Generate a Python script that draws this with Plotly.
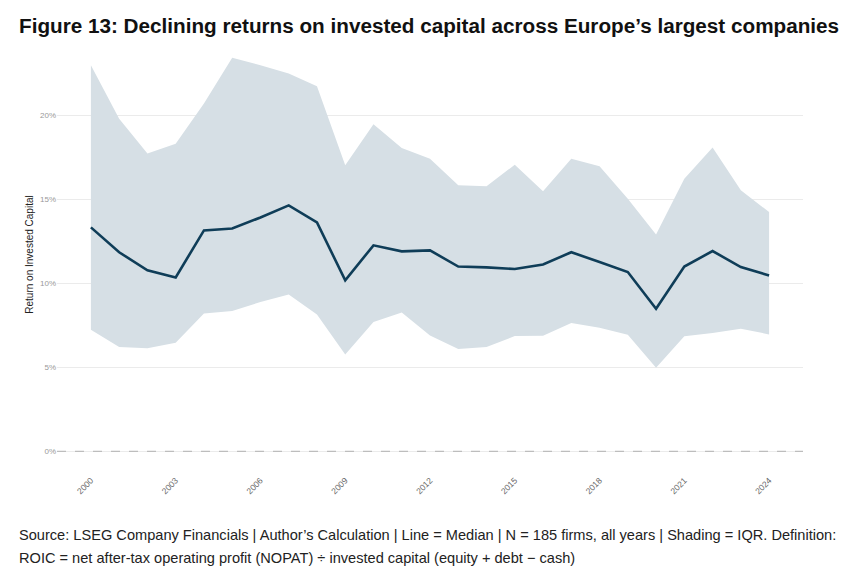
import plotly.graph_objects as go

years = list(range(2000, 2025))
median = [13.33, 11.85, 10.77, 10.35, 13.15, 13.26, 13.92, 14.64, 13.62, 10.18, 12.26, 11.9, 11.96,
          11.0, 10.95, 10.85, 11.12, 11.85, 11.27, 10.67, 8.49, 11.0, 11.92, 10.97, 10.47]
q75 = [22.98, 19.8, 17.72, 18.31, 20.7, 23.43, 22.98, 22.48, 21.73, 17.02, 19.46, 18.05, 17.42,
       15.83, 15.77, 17.06, 15.48, 17.42, 16.96, 15.04, 12.9, 16.23, 18.08, 15.54, 14.24]
q25 = [7.24, 6.21, 6.13, 6.47, 8.2, 8.35, 8.89, 9.33, 8.15, 5.77, 7.7, 8.26, 6.9,
       6.09, 6.21, 6.86, 6.88, 7.64, 7.36, 6.94, 4.98, 6.85, 7.04, 7.3, 6.96]
xticks = [2000, 2003, 2006, 2009, 2012, 2015, 2018, 2021, 2024]
yticks = [0, 5, 10, 15, 20]

title = "Figure 13: Declining returns on invested capital across Europe\u2019s largest companies"
footer1 = "Source: LSEG Company Financials | Author\u2019s Calculation | Line = Median | N = 185 firms, all years | Shading = IQR. Definition:"
footer2 = "ROIC = net after-tax operating profit (NOPAT) \u00f7 invested capital (equity + debt \u2212 cash)"

fig = go.Figure()
fig.add_trace(go.Scatter(x=years, y=q25, mode="lines", line=dict(width=0), showlegend=False, hoverinfo="skip"))
fig.add_trace(go.Scatter(x=years, y=q75, mode="lines", line=dict(width=0), fill="tonexty",
                         fillcolor="#d6dfe5", showlegend=False, hoverinfo="skip"))
fig.add_trace(go.Scatter(x=years, y=median, mode="lines", line=dict(color="#0f3d58", width=2.6),
                         showlegend=False))
fig.add_shape(type="line", xref="paper", x0=0, x1=1, yref="y", y0=0, y1=0,
              line=dict(color="#bdbdbd", width=1.2, dash="dash"), layer="above")

fig.update_layout(
    width=853, height=578,
    margin=dict(l=57, r=50, t=38, b=107),
    plot_bgcolor="white", paper_bgcolor="white",
    font=dict(family="Liberation Sans, Arial, sans-serif", color="#222"),
    xaxis=dict(range=[1998.8, 2025.2], tickvals=xticks, ticktext=[str(t) for t in xticks],
               tickangle=-45, showgrid=False, zeroline=False, showline=False,
               tickfont=dict(size=8.5, color="#666"), ticks="", ticklabelstandoff=2),
    yaxis=dict(range=[-1.17, 24.6], tickvals=yticks, ticktext=[f"{t}%" for t in yticks],
               showgrid=True, gridcolor="#ebebeb", gridwidth=1, zeroline=False, showline=False,
               tickfont=dict(size=8, color="#999"), ticks="",
               title=dict(text="Return on Invested Capital", font=dict(size=10, color="#222"), standoff=4)),
    annotations=[
        dict(text="<b>" + title + "</b>", xref="paper", yref="paper", x=-40/746, y=1 + (38-26)/433,
             xanchor="left", yanchor="middle", showarrow=False,
             font=dict(size=20.7, color="#111", family="Liberation Sans, Arial, sans-serif")),
        dict(text=footer1, xref="paper", yref="paper", x=-40/746, y=-(535-471)/433,
             xanchor="left", yanchor="middle", showarrow=False,
             font=dict(size=14.6, color="#222", family="Liberation Sans, Arial, sans-serif")),
        dict(text=footer2, xref="paper", yref="paper", x=-40/746, y=-(558-471)/433,
             xanchor="left", yanchor="middle", showarrow=False,
             font=dict(size=14.6, color="#222", family="Liberation Sans, Arial, sans-serif")),
    ],
)
fig.write_html("out.html")
